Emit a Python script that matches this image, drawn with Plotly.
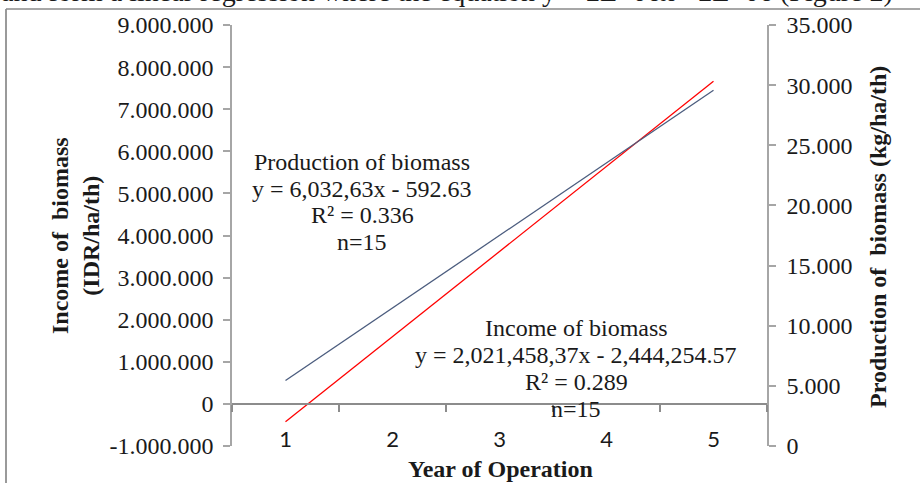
import plotly.graph_objects as go

# ---- data ----
years = ["1", "2", "3", "4", "5"]
income_trend = [-422796, 1598662, 3620121, 5641579, 7663037]      # IDR/ha/th (left axis)
production_trend = [5440, 11473, 17505, 23538, 29570]            # kg/ha/th (right axis)

left_ticks = [-1000000, 0, 1000000, 2000000, 3000000, 4000000, 5000000,
              6000000, 7000000, 8000000, 9000000]
left_labels = ["-1.000.000", "0", "1.000.000", "2.000.000", "3.000.000", "4.000.000",
               "5.000.000", "6.000.000", "7.000.000", "8.000.000", "9.000.000"]
right_ticks = [0, 5000, 10000, 15000, 20000, 25000, 30000, 35000]
right_labels = ["0", "5.000", "10.000", "15.000", "20.000", "25.000", "30.000", "35.000"]

prod_label = ["Production of biomass", "y = 6,032,63x - 592.63", "R² = 0.336", "n=15"]
inc_label = ["Income of biomass", "y = 2,021,458,37x - 2,444,254.57", "R² = 0.289", "n=15"]
top_text = "and form a linear regression where the equation y = 2E+06x - 2E+06 (Figure 2)"

# ---- layout geometry (pixels) ----
W, H = 920, 483
L, R, T, B = 232, 767, 25, 446
PW, PH = R - L, B - T


def px(x):
    return (x - L) / PW


def py(y):
    return (B - y) / PH


SERIF = "Liberation Serif"
TXT = "#1a1a1a"

fig = go.Figure()
fig.add_trace(go.Scatter(x=years, y=production_trend, mode="lines",
                         line=dict(color="#4B5C7E", width=1.3),
                         xaxis="x2", yaxis="y2", showlegend=False,
                         name="Production of biomass"))
fig.add_trace(go.Scatter(x=years, y=income_trend, mode="lines",
                         line=dict(color="#FF0000", width=1.3),
                         xaxis="x", yaxis="y", showlegend=False,
                         name="Income of biomass"))

axis_gray = "#A6A6A6"
fig.update_layout(
    width=W, height=H,
    margin=dict(l=L, r=W - R, t=T, b=H - B, autoexpand=False),
    paper_bgcolor="white", plot_bgcolor="white",
    font=dict(family=SERIF, size=24, color=TXT),
    xaxis=dict(type="category", range=[-0.5, 4.5], anchor="free", position=py(424),
               showline=False, ticks="", showgrid=False, zeroline=False,
               tickfont=dict(family="Lato", size=22, color=TXT)),
    xaxis2=dict(type="category", range=[-0.5, 4.5], overlaying="x", anchor="free",
                position=0.1, showline=True, linecolor="#8C8C8C", linewidth=1.5,
                ticks="outside", tickson="boundaries", ticklen=7, tickcolor="#8C8C8C",
                tickwidth=1.5, showticklabels=False, showgrid=False, zeroline=False),
    yaxis=dict(range=[-1000000, 9000000], tickvals=left_ticks, ticktext=left_labels,
               ticks="outside", ticklen=7, tickcolor=axis_gray, tickwidth=1.5,
               showline=True, linecolor=axis_gray, linewidth=1.5,
               showgrid=False, zeroline=False, ticklabelstandoff=5,
               tickfont=dict(family=SERIF, size=24, color=TXT)),
    yaxis2=dict(range=[0, 35000], tickvals=right_ticks, ticktext=right_labels,
                overlaying="y", side="right", anchor="x2",
                ticks="outside", ticklen=7, tickcolor=axis_gray, tickwidth=1.5,
                showline=True, linecolor=axis_gray, linewidth=1.5,
                showgrid=False, zeroline=False, ticklabelstandoff=6,
                tickfont=dict(family=SERIF, size=24, color=TXT)),
)

ann = []
# regression labels, one line each
for i, t in enumerate(prod_label):
    ann.append(dict(x=px(362), y=py(162 + 26.7 * i), xref="paper", yref="paper",
                    text=t, showarrow=False, xanchor="center", yanchor="middle",
                    font=dict(family=SERIF, size=24, color=TXT)))
for i, t in enumerate(inc_label):
    ann.append(dict(x=px(576), y=py(328 + 27 * i), xref="paper", yref="paper",
                    text=t, showarrow=False, xanchor="center", yanchor="middle",
                    font=dict(family=SERIF, size=24, color=TXT)))
# axis titles
ann.append(dict(x=px(75), y=py(236), xref="paper", yref="paper",
                text="<b>Income of  biomass</b><br><b>(IDR/ha/th)</b>", textangle=-90,
                showarrow=False, xanchor="center", yanchor="middle",
                font=dict(family=SERIF, size=24, color=TXT)))
ann.append(dict(x=px(878), y=py(237), xref="paper", yref="paper",
                text="<b>Production of  biomass (kg/ha/th)</b>", textangle=-90,
                showarrow=False, xanchor="center", yanchor="middle",
                font=dict(family=SERIF, size=24, color=TXT)))
ann.append(dict(x=px(500), y=py(469), xref="paper", yref="paper",
                text="<b>Year of Operation</b>",
                showarrow=False, xanchor="center", yanchor="middle",
                font=dict(family=SERIF, size=24, color=TXT)))
# cut-off body text at the very top
ann.append(dict(x=px(-1), y=py(-8), xref="paper", yref="paper",
                text=top_text, showarrow=False, xanchor="left", yanchor="middle",
                font=dict(family=SERIF, size=28, color=TXT)))
fig.update_layout(annotations=ann)

# frame lines
fig.add_shape(type="line", xref="paper", yref="paper",
              x0=px(6), x1=px(6), y0=py(9), y1=py(500),
              line=dict(color="#9A9A9A", width=2))
fig.add_shape(type="line", xref="paper", yref="paper",
              x0=px(6), x1=px(930), y0=py(9), y1=py(9),
              line=dict(color="#8A8A8A", width=1.3))

fig.write_html("out.html", config={"displayModeBar": False},
               post_script="document.body.style.margin='0';document.body.style.overflow='hidden';")
